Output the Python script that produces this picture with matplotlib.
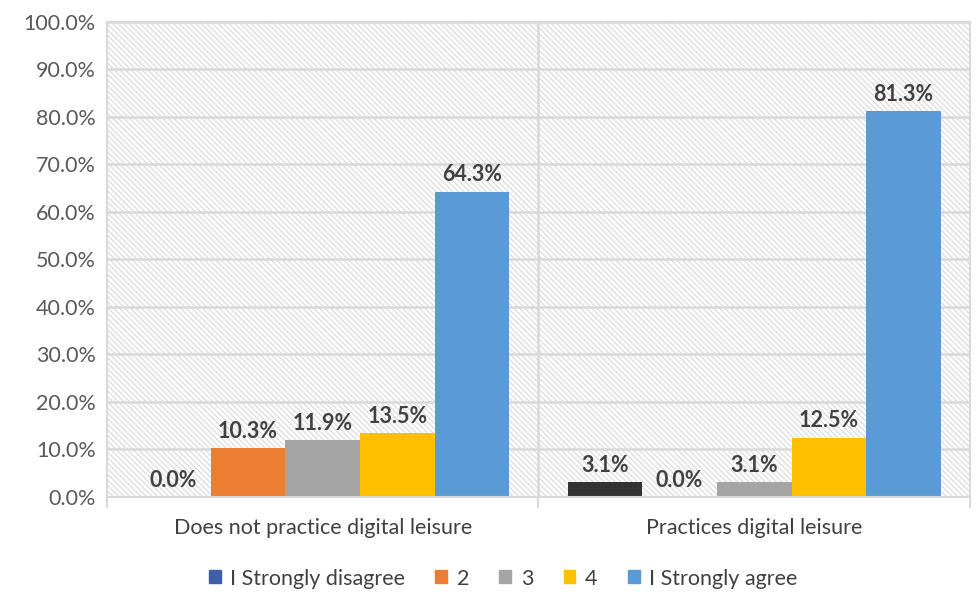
import matplotlib
matplotlib.use("agg")
import matplotlib.pyplot as plt
from matplotlib.patches import Rectangle, Patch

# data
groups = ["Does not practice digital leisure", "Practices digital leisure"]
series = ["I Strongly disagree", "2", "3", "4", "I Strongly agree"]
strongly_disagree = [0.0, 3.1]
level_2 = [10.3, 0.0]
level_3 = [11.9, 3.1]
level_4 = [13.5, 12.5]
strongly_agree = [64.3, 81.3]
yticks = [0, 10, 20, 30, 40, 50, 60, 70, 80, 90, 100]

values = [strongly_disagree, level_2, level_3, level_4, strongly_agree]
colors = ['#333333', '#ed7d31', '#a5a5a5', '#ffc000', '#5b9bd5']
legend_colors = ['#3f5fa8', '#ed7d31', '#a5a5a5', '#ffc000', '#5b9bd5']

plt.rcParams['font.family'] = ['Lato', 'DejaVu Sans']

fig = plt.figure(figsize=(9.77, 5.94), dpi=100)
ax = fig.add_axes([0.1095, 0.1633, 0.8833, 0.7997])

# hatched plot background
ax.set_facecolor('white')
plt.rcParams['hatch.color'] = '#d9d9d9'
plt.rcParams['hatch.linewidth'] = 0.8
ax.add_patch(Rectangle((0, 0), 1, 1, transform=ax.transAxes, facecolor='white',
                       edgecolor='#d9d9d9', hatch='\\\\\\\\\\\\', lw=0, zorder=0))

ax.set_axisbelow(True)
ax.yaxis.grid(True, color='#d9d9d9', lw=1.8, zorder=1)
ax.axvline(0.5, color='#d9d9d9', lw=1.8, zorder=1)

w = 0.173
for i, (name, vals) in enumerate(zip(series, values)):
    xs = [g + (i - 2) * w for g in range(len(groups))]
    ax.bar(xs, vals, width=w, color=colors[i], zorder=2, label=name)
    for x, v in zip(xs, vals):
        ax.text(x, v + 1.3, "%.1f%%" % v, ha='center', va='bottom',
                fontsize=15.5, fontweight='bold', color='#404040', zorder=3)

ax.set_xlim(-0.5, 1.5)
ax.set_ylim(0, 100)
ax.set_yticks(yticks)
ax.set_yticklabels(["%.1f%%" % t for t in yticks])
ax.set_xticks(range(len(groups)))
ax.set_xticklabels(groups)
ax.set_xticks([-0.5, 0.5, 1.5], minor=True)
ax.tick_params(axis='x', which='major', length=0, pad=15, labelsize=15.5,
               labelcolor='#404040')
ax.tick_params(axis='x', which='minor', length=8, color='#d9d9d9', width=1.5)
ax.tick_params(axis='y', length=0, pad=8, labelsize=15.5, labelcolor='#595959')

for side in ['left', 'right', 'top', 'bottom']:
    ax.spines[side].set_color('#d9d9d9')
    ax.spines[side].set_linewidth(1.5)

handles = [Patch(color=c) for c in legend_colors]
fig.legend(handles, series, loc='center', bbox_to_anchor=(0.515, 0.026),
           ncol=5, frameon=False, fontsize=15.5, handlelength=0.55,
           handleheight=0.55, handletextpad=0.45, columnspacing=1.4,
           labelcolor='#404040')

fig.savefig("out.png", dpi=100)
